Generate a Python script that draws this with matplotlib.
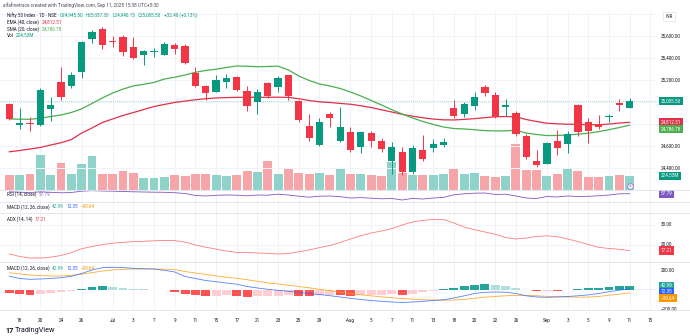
import matplotlib
matplotlib.use("Agg")
import matplotlib.pyplot as plt
from matplotlib import transforms

plt.rcParams['font.family'] = ['Roboto', 'DejaVu Sans']

# ---------------- data ----------------
dates = ["06-17", "06-18", "06-19", "06-20", "06-23", "06-24", "06-25", "06-26", "06-27", "06-30",
         "07-01", "07-02", "07-03", "07-04", "07-07", "07-08", "07-09", "07-10", "07-11", "07-14",
         "07-15", "07-16", "07-17", "07-18", "07-21", "07-22", "07-23", "07-24", "07-25", "07-28",
         "07-29", "07-30", "07-31", "08-01", "08-04", "08-05", "08-06", "08-07", "08-08", "08-11",
         "08-12", "08-13", "08-14", "08-18", "08-19", "08-20", "08-21", "08-22", "08-25", "08-26",
         "08-28", "08-29", "09-01", "09-02", "09-03", "09-04", "09-05", "09-08", "09-09", "09-10",
         "09-11"]

opens = [24976, 24786, 24803, 24785, 24934, 25176, 25145, 25267, 25573, 25661,
         25551, 25585, 25500, 25427, 25450, 25427, 25513, 25509, 25258, 25145,
         25088, 25181, 25224, 25100, 24997, 25167, 25136, 25243, 25003, 24776,
         24606, 24885, 24640, 24727, 24591, 24718, 24640, 24461, 24540, 24364,
         24561, 24579, 24607, 24940, 24888, 24961, 25136, 25061, 24949, 24894,
         24691, 24461, 24434, 24646, 24613, 24973, 24813, 24797, 24858, 24990,
         24945.50]
highs = [24985, 24945, 24863, 25122, 25045, 25318, 25266, 25555, 25652, 25682,
         25593, 25608, 25591, 25470, 25489, 25540, 25531, 25525, 25318, 25151,
         25240, 25255, 25238, 25143, 25111, 25182, 25233, 25246, 25011, 24885,
         24848, 24902, 24949, 24773, 24736, 24733, 24672, 24634, 24587, 24602,
         24700, 24664, 24674, 25015, 24993, 25091, 25154, 25084, 25022, 24919,
         24702, 24561, 24636, 24743, 24737, 24980, 24849, 24876, 24891, 25027,
         25037.30]
lows = [24835, 24749, 24733, 24783, 24825, 25013, 25126, 25218, 25531, 25476,
        25501, 25418, 25385, 25331, 25407, 25425, 25431, 25341, 25136, 25015,
        25088, 25121, 25101, 24918, 24885, 25035, 25085, 25018, 24813, 24643,
        24599, 24771, 24636, 24540, 24535, 24590, 24539, 24344, 24337, 24347,
        24465, 24539, 24585, 24852, 24858, 24929, 25054, 24850, 24874, 24689,
        24481, 24409, 24432, 24516, 24533, 24691, 24622, 24751, 24815, 24918,
        24940.15]
closes = [24846, 24804, 24793, 25106, 24967, 25043, 25243, 25545, 25631, 25515,
          25541, 25449, 25400, 25461, 25461, 25522, 25476, 25355, 25145, 25076,
          25194, 25212, 25109, 24964, 25085, 25055, 25216, 25052, 24834, 24673,
          24818, 24852, 24767, 24561, 24722, 24645, 24570, 24591, 24364, 24579,
          24479, 24616, 24631, 24870, 24979, 25046, 25082, 24858, 24968, 24706,
          24500, 24425, 24622, 24576, 24706, 24727, 24736, 24767, 24870, 24967,
          25005.50]

volume_m = [236, 236, 264, 566, 236, 439, 252, 417, 549, 264,
            252, 307, 280, 191, 191, 208, 236, 219, 252, 252,
            236, 219, 247, 307, 290, 472, 264, 335, 274, 252,
            280, 236, 335, 252, 252, 247, 219, 455, 280, 236,
            236, 236, 264, 356, 252, 274, 219, 208, 224, 743,
            318, 318, 219, 264, 335, 307, 208, 208, 224, 247, 224.53]

sma20 = [24843, 24841, 24840, 24849, 24865, 24879, 24902, 24935, 24984, 25034,
         25079, 25115, 25143, 25158, 25175, 25206, 25222, 25243, 25267, 25284,
         25295, 25311, 25325, 25322, 25318, 25320, 25323, 25288, 25234, 25193,
         25161, 25143, 25120, 25088, 25052, 25011, 24970, 24927, 24888, 24852,
         24820, 24793, 24770, 24756, 24752, 24745, 24737, 24734, 24735, 24740,
         24715, 24702, 24692, 24693, 24697, 24705, 24713, 24728, 24745, 24765, 24786.78]
ema40 = [24544.5, 24556, 24570, 24584, 24606, 24627, 24655, 24715, 24761, 24811,
         24843, 24875, 24901, 24929, 24956, 24975, 24993, 25006, 25018, 25027,
         25034, 25037, 25040, 25040, 25040, 25040, 25041, 25039, 25027, 25011,
         24999, 24993, 24984, 24977, 24963, 24947, 24926, 24906, 24885, 24868,
         24854, 24842, 24835, 24834, 24839, 24846, 24855, 24863, 24865, 24863,
         24838, 24820, 24804, 24799, 24795, 24794, 24791, 24790, 24797, 24806, 24812.51]

rsi = [65.5, 63.9, 62.2, 65.5, 63.5, 61.4, 62.6, 68, 70, 68.8,
       68, 66.7, 65.5, 64.7, 63.9, 63.5, 61.8, 58.5, 50.4, 48.3,
       51.2, 52.4, 51.6, 49.1, 52.4, 51.6, 55.7, 52.4, 47.5, 43.4,
       47.5, 48.3, 45.5, 40.1, 41.8, 39.3, 36.9, 38.1, 32, 38.5,
       36, 40.1, 42.6, 53.2, 57.3, 59.8, 60.6, 54.5, 55.7, 48.3,
       40.1, 38.1, 46.3, 44.2, 48.3, 46.3, 47.1, 49.1, 52.4, 57.3, 57.79]

adx = [15.6, 14.25, 13.5, 13.5, 13.9, 14.75, 16.15, 18.15, 19.25, 20.2,
       20.9, 21.35, 21.65, 21.85, 22.1, 22.3, 22.2, 21.5, 20, 18.9,
       17.95, 17, 16.3, 16.2, 16, 15.8, 15.5, 15.75, 16.6, 17.5,
       18.7, 19.7, 21.25, 23, 24.65, 26, 27, 28.2, 30, 31.5,
       32.35, 32.7, 32.7, 31, 29, 27.65, 26.5, 25.35, 23.75, 23,
       23.5, 24.25, 24.6, 24.15, 23, 21.75, 20.25, 18.85, 18.25, 17.85, 17.21]

macd = [137.7, 114.6, 106.5, 109.6, 114.6, 122.6, 136.6, 164.9, 200, 223.1,
        227.1, 224.1, 217.1, 213, 210.1, 197, 180, 134.6, 114.6, 94.5,
        82.4, 69.3, 57.3, 34.1, 19.1, 6, -4, -14.1, -26.1, -36.1,
        -46.3, -58.3, -71.3, -84.4, -96.5, -106.5, -114.6, -121.6, -126.6, -121.6,
        -114.6, -106.5, -99.4, -81.4, -59.3, -36.1, -24.1, -21.1, -24.1, -36.1,
        -59.3, -71.3, -74.4, -71.3, -66.4, -59.3, -50, -36, -18, -3, 12.35]
signal = [171.8, 161.8, 149.7, 143.7, 139.7, 139.7, 146.8, 157.8, 172.9, 190,
          200, 207, 210.1, 210.1, 210.1, 209, 205, 184.9, 169.8, 154.8,
          141.7, 127.7, 116.6, 102.5, 86.4, 71.3, 59.3, 46.3, 34.1, 21.1,
          6, -8, -23.1, -39.2, -49.2, -59.3, -69.3, -78.4, -86.4, -93.4,
          -98.5, -101.6, -103.6, -101.6, -94.5, -84.4, -73.3, -65.3, -59.3, -55.3,
          -55.3, -59.3, -64.4, -68.4, -71.3, -73.3, -72, -66, -54, -43, -30.64]
hist = [-35, -45, -47, -38, -28, -18, -8, 8, 26, 35,
        31, 22, 12, 5, 2, -6, -18, -40, -55, -62,
        -58, -56, -63, -70, -66, -62, -57, -53, -58, -62,
        -56, -50, -55, -60, -56, -52, -48, -45, -50, -38,
        -24, -10, 5, 22, 38, 50, 58, 52, 42, 24,
        -6, -14, -8, -12, -2, 8, 16, 24, 32, 38, 42.99]

tick_pos = [1, 3, 5, 7, 10, 12, 14, 16, 18, 20, 22, 24, 26, 28, 30, 33, 35, 37, 39, 41,
            43, 45, 47, 49, 52, 54, 56, 58, 60, 62]
tick_labels = ["18", "20", "24", "26", "Jul", "3", "7", "9", "11", "15", "17", "21", "23", "25",
               "29", "Aug", "5", "7", "11", "13", "18", "20", "22", "26", "Sep", "3", "5", "9",
               "11", "15"]
price_ticks = [24400, 24600, 25200, 25400, 25600]
price_grid = [24400, 24600, 24800, 25000, 25200, 25400, 25600, 25800]
adx_ticks = [20, 30]
macd_ticks = [200, -200]

# ---------------- style ----------------
UP, DN = '#089981', '#f23645'
VUP, VDN = '#8fd2ca', '#f6a6a8'
SMA_C, EMA_C = '#4caf50', '#e0304a'
RSI_C, ADX_C = '#7e57c2', '#ff5252'
MACD_C, SIG_C = '#2962ff', '#ff9800'
H_UP, H_UP2, H_DN, H_DN2 = '#26a69a', '#b2dfdb', '#ff5252', '#ffcdd2'
TXT, GRID, SEP = '#131722', '#f0f3fa', '#e0e3eb'
FS = 3.3

W, H = 690, 336
RIGHT = 656
XMIN, XMAX = -0.9, 62.55
fig = plt.figure(figsize=(W / 100, H / 100), dpi=100)
fig.patch.set_facecolor('white')
rend = fig.canvas.get_renderer()


def pane(top, bottom):
    ax = fig.add_axes([0, 1 - bottom / H, RIGHT / W, (bottom - top) / H])
    ax.set_xlim(XMIN, XMAX)
    for s in ax.spines.values():
        s.set_visible(False)
    ax.tick_params(left=False, right=False, bottom=False, top=False,
                   labelleft=False, labelbottom=False)
    for p in tick_pos:
        ax.axvline(p, color=GRID, lw=0.7, zorder=0)
    return ax


def axis_label(ax, val, text, fc=None, shift=0.0):
    tr = transforms.blended_transform_factory(ax.transAxes, ax.transData)
    tr = tr + transforms.ScaledTranslation(5 / 100, -shift / 100, fig.dpi_scale_trans)
    kw = dict(fontsize=FS, va='center', ha='left', transform=tr, color=TXT, clip_on=False)
    if fc:
        kw['color'] = 'white'
        kw['bbox'] = dict(boxstyle='square,pad=0.35', fc=fc, ec='none')
    ax.text(1, val, text, **kw)


def stacked_labels(ax, items, gap=6.3):
    # value tags on the price scale, pushed apart so they do not overlap
    pts = []
    for v, t, c in items:
        pts.append([ax.transData.transform((0, v))[1], v, t, c])
    pts.sort(key=lambda p: -p[0])
    for k in range(1, len(pts)):
        if pts[k - 1][0] - pts[k][0] < gap:
            pts[k][0] = pts[k - 1][0] - gap
    for ypix, v, t, c in pts:
        axis_label(ax, v, t, fc=c, shift=ax.transData.transform((0, v))[1] - ypix)


def legend_row(y_px, parts, x0=7, size=FS, gap=2.4):
    x = x0
    for s, c in parts:
        t = fig.text(x / W, 1 - y_px / H, s, color=c, fontsize=size, va='center', ha='left')
        x += t.get_window_extent(renderer=rend).width + gap


def fmt(v):
    return f"\u2212{abs(v):,.2f}" if v < 0 else f"{v:,.2f}"


idx = list(range(len(closes)))
up = [c >= o for o, c in zip(opens, closes)]

# ---------------- price pane ----------------
ax_v = pane(10, 189.5)
ax_v.set_ylim(0, 2962)
ax_v.bar(idx, volume_m, width=0.86, color=[VUP if u else VDN for u in up], zorder=1)

ax_p = fig.add_axes(ax_v.get_position())
ax_p.set_xlim(XMIN, XMAX)
ax_p.set_ylim(24201.7, 25833.6)
ax_p.patch.set_visible(False)
for s in ax_p.spines.values():
    s.set_visible(False)
ax_p.tick_params(left=False, bottom=False, labelleft=False, labelbottom=False)
for g in price_grid:
    ax_p.axhline(g, color=GRID, lw=0.7, zorder=0)
ax_p.axhline(closes[-1], color=UP, lw=0.5, ls=(0, (1, 2)), alpha=0.7, zorder=1)

ax_p.plot(idx, ema40, color=EMA_C, lw=0.9, zorder=2)
ax_p.plot(idx, sma20, color=SMA_C, lw=0.9, zorder=2)
cols = [UP if u else DN for u in up]
ax_p.vlines(idx, lows, highs, colors=cols, lw=0.7, zorder=3)
bottoms = [min(o, c) for o, c in zip(opens, closes)]
heights = [max(abs(c - o), 8) for o, c in zip(opens, closes)]
ax_p.bar(idx, heights, bottom=bottoms, width=0.7, color=cols, zorder=4)

# dividend / event marker under the last bar
ax_v.plot([idx[-1]], [60], marker='o', ms=4.2, mfc='#ede7f6', mec='#9575cd', mew=0.5, zorder=5)
ax_v.text(idx[-1], 60, '\u26a1', fontsize=2.6, color='#7e57c2', ha='center', va='center',
          family='DejaVu Sans', zorder=6)

for t in price_ticks:
    axis_label(ax_p, t, f"{t:,.2f}")
stacked_labels(ax_p, [(closes[-1], fmt(closes[-1]), UP),
                      (ema40[-1], fmt(ema40[-1]), EMA_C),
                      (sma20[-1], fmt(sma20[-1]), SMA_C)])
axis_label(ax_v, volume_m[-1], f"{volume_m[-1]:.2f}M", fc=UP)
fig.text(669 / W, 1 - 16.5 / H, "INR", fontsize=FS, color=TXT, ha='center', va='center',
         bbox=dict(boxstyle='square,pad=0.5', fc='white', ec=SEP, lw=0.5))

# ---------------- RSI pane ----------------
ax_r = pane(189.5, 201.5)
ax_r.set_ylim(25.8, 74.9)
ax_r.plot(idx, rsi, color=RSI_C, lw=0.6)
axis_label(ax_r, rsi[-1], f"{rsi[-1]:.2f}", fc=RSI_C)

# ---------------- collapsed MACD pane ----------------
ax_c = pane(201.5, 213)
ax_c.set_ylim(0, 1)

# ---------------- ADX pane ----------------
ax_a = pane(213, 262)
ax_a.set_ylim(11.5, 36)
for g in adx_ticks:
    ax_a.axhline(g, color=GRID, lw=0.7, zorder=0)
    axis_label(ax_a, g, f"{g:.2f}")
ax_a.plot(idx, adx, color=ADX_C, lw=0.6, alpha=0.75)
axis_label(ax_a, adx[-1], f"{adx[-1]:.2f}", fc=DN)

# ---------------- MACD pane ----------------
ax_m = pane(262, 310)
ax_m.set_ylim(-202, 280.4)
hc = []
for i, h in enumerate(hist):
    prev = hist[i - 1] if i else h
    if h >= 0:
        hc.append(H_UP if h >= prev else H_UP2)
    else:
        hc.append(H_DN if h <= prev else H_DN2)
ax_m.bar(idx, hist, width=0.86, color=hc, zorder=1)
ax_m.plot(idx, signal, color=SIG_C, lw=0.6, alpha=0.8, zorder=2)
ax_m.plot(idx, macd, color=MACD_C, lw=0.6, alpha=0.8, zorder=2)
ax_m.axhline(macd[-1], xmin=(idx[-1] + 0.5 - XMIN) / (XMAX - XMIN), color=MACD_C, lw=0.4,
             ls=(0, (1, 2)), alpha=0.6)
for g in macd_ticks:
    axis_label(ax_m, g, fmt(g))
stacked_labels(ax_m, [(hist[-1], fmt(hist[-1]), H_UP),
                      (macd[-1], fmt(macd[-1]), MACD_C),
                      (signal[-1], fmt(signal[-1]), SIG_C)])

ax_m.tick_params(labelbottom=True, pad=2.5, labelsize=FS, labelcolor=TXT)
ax_m.set_xticks(tick_pos)
ax_m.set_xticklabels(tick_labels)

# pane separators
for yb in (189.5, 201.5, 213, 262, 310):
    fig.add_artist(plt.Line2D([0, 1], [1 - yb / H] * 2, color=SEP, lw=0.6))

# ---------------- legends ----------------
fig.text(3 / W, 1 - 5 / H, "alfafinetrace created with TradingView.com, Sep 11, 2025 15:38 UTC+5:30",
         fontsize=3.4, color='#4a4e5a', va='center')
legend_row(15.5, [("Nifty 50 Index \u00b7 1D \u00b7 NSE", TXT),
                  (f"O{opens[-1]:,.2f}", UP), (f"H{highs[-1]:,.2f}", UP),
                  (f"L{lows[-1]:,.2f}", UP), (f"C{closes[-1]:,.2f}", UP),
                  ("+32.40 (+0.13%)", UP)], gap=2.9)
legend_row(22.2, [("EMA (40, close)", TXT), (fmt(ema40[-1]), EMA_C)])
legend_row(28.8, [("SMA (20, close)", TXT), (fmt(sma20[-1]), SMA_C)])
legend_row(35.2, [("Vol", TXT), (f"{volume_m[-1]:.2f}M", UP)])
legend_row(194.5, [("RSI (14, close)", TXT), (f"{rsi[-1]:.2f}", RSI_C)])
macd_parts = [("MACD (12, 26, close)", TXT), (fmt(hist[-1]), H_UP),
              (fmt(macd[-1]), MACD_C), (fmt(signal[-1]), SIG_C)]
legend_row(207, macd_parts)
legend_row(219.5, [("ADX (14, 14)", TXT), (fmt(adx[-1]), DN)])
legend_row(268, macd_parts)

fig.text(5 / W, 1 - 331 / H, "17", fontsize=5.2, fontweight='bold', color=TXT, va='center')
fig.text(15 / W, 1 - 331 / H, "TradingView", fontsize=5.2, color=TXT, va='center')

fig.savefig("out.png", dpi=100, facecolor='white')
